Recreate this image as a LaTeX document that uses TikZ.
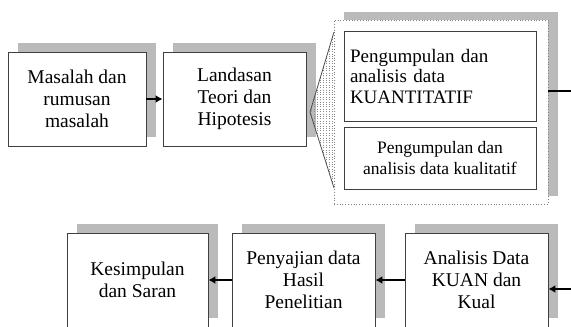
\documentclass[tikz,border=0pt]{standalone}
\usepackage{fontspec}
\setmainfont{Liberation Serif}
\usetikzlibrary{shadows,arrows.meta}

\begin{document}
\begin{tikzpicture}[x=1pt,y=-1pt,
	box/.style={draw=black!75, line width=0.9pt, fill=white, inner sep=2pt,
		align=center, font=\fontsize{19.5}{22}\selectfont,
		minimum width=143pt, minimum height=94pt,
		drop shadow={shadow xshift=10pt, shadow yshift=9pt, fill=black!27, opacity=1}},
	wadah/.style={draw=black!50, dotted, line width=0.8pt, fill=white,
		drop shadow={shadow xshift=10pt, shadow yshift=8pt, fill=black!27, opacity=1, solid}},
	isi/.style={draw=black!75, line width=0.9pt, fill=white, minimum width=192pt},
	conn/.style={line width=1.8pt, -{Latex[length=7pt,width=8pt]}},
]

% parameters %{{{2

	\def\hatchstep{3}

% frame %{{{2

	\useasboundingbox (0,0) rectangle (571,327);
	\clip (0,0) rectangle (571,327);

% top row %{{{2

	\node[box, minimum width=138pt] (masalah) at (77,99) {Masalah dan\\rumusan\\masalah};
	\node[box] (landasan) at (234.5,99) {Landasan\\Teori dan\\Hipotesis};

	\node[wadah, minimum width=214pt, minimum height=184pt] (gabung) at (441,112) {};

	\node[isi, minimum height=90pt, text width=180pt, align=left, inner sep=6pt,
		font=\fontsize{19}{20.5}\selectfont] (kuan) at (440,76)
		{Pengumpulan dan\\analisis data\\KUANTITATIF};
	\node[isi, minimum height=62pt, align=center,
		font=\fontsize{17.5}{21}\selectfont] (kual) at (440,158)
		{Pengumpulan dan\\analisis data kualitatif};

% fan %{{{2

	\coordinate (apex) at (310,112);
	\coordinate (fanT) at (334,32);
	\coordinate (fanB) at (334,188);

	\begin{scope}
		\clip (apex) -- (fanT) -- (fanB) -- cycle;
		\foreach \x in {311,314,...,334} { \draw[dotted, black!45] (\x,20) -- (\x,204); }
	\end{scope}
	\draw[black!70, line width=0.8pt] (fanT) -- (apex) -- (fanB);

% bottom row %{{{2

	\node[box] (analisis) at (476.5,280) {Analisis Data\\KUAN dan\\Kual};
	\node[box] (penyajian) at (303.5,280) {Penyajian data\\Hasil\\Penelitian};
	\node[box, minimum width=141pt] (kesimpulan) at (137.5,280) {Kesimpulan\\dan Saran};

% connectors %{{{2

	\draw[conn] (masalah) -- (landasan);
	\draw[conn] ([yshift=21pt]gabung.east) -- ++(40,0) |- ([yshift=-9pt]analisis.east);
	\draw[conn] (analisis) -- (penyajian);
	\draw[conn] (penyajian) -- (kesimpulan);

% closing %{{{2

\end{tikzpicture}
\end{document}
